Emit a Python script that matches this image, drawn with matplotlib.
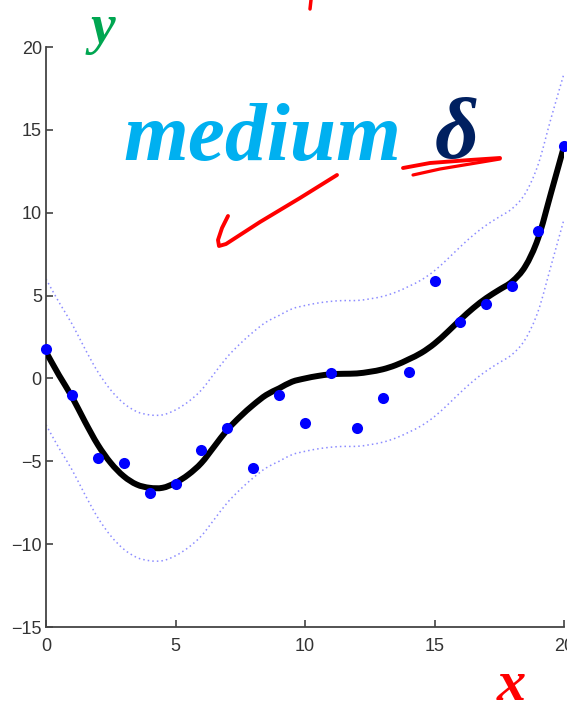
import matplotlib
matplotlib.use("Agg")
import matplotlib.pyplot as plt
from matplotlib.lines import Line2D
from matplotlib.path import Path
from matplotlib.patches import PathPatch

# ---- data ----
obs_x = [0, 1, 2, 3, 4, 5, 6, 7, 8, 9, 10, 11, 12, 13, 14, 15, 16, 17, 18, 19, 20]
obs_y = [1.8, -1.0, -4.8, -5.1, -6.9, -6.4, -4.3, -3.0, -5.4, -1.0, -2.7,
         0.3, -3.0, -1.2, 0.4, 5.9, 3.4, 4.5, 5.6, 8.9, 14.0]

fit_x = [0, 0.5, 1, 1.5, 2, 2.5, 3, 3.5, 4, 4.5, 5, 5.5, 6, 6.5, 7, 7.5, 8, 8.5,
         9, 9.5, 10, 10.5, 11, 11.5, 12, 12.5, 13, 13.5, 14, 14.5, 15, 15.5,
         16, 16.5, 17, 17.5, 18, 18.5, 19, 19.5, 20]
fit_y = [1.6, 0.2, -1.1, -2.6, -4.0, -5.1, -5.9, -6.4, -6.6, -6.6, -6.3, -5.8,
         -5.1, -4.1, -3.1, -2.3, -1.6, -1.0, -0.6, -0.2, 0.0, 0.15, 0.25, 0.28,
         0.3, 0.4, 0.55, 0.8, 1.15, 1.55, 2.1, 2.8, 3.55, 4.25, 4.85, 5.35,
         5.85, 6.75, 8.45, 11.2, 14.0]
upper_y = [6.0, 4.6, 3.3, 1.8, 0.4, -0.7, -1.5, -2.0, -2.2, -2.2, -1.9, -1.4,
           -0.7, 0.3, 1.3, 2.1, 2.8, 3.4, 3.8, 4.2, 4.4, 4.55, 4.65, 4.7,
           4.7, 4.8, 4.95, 5.2, 5.55, 5.95, 6.5, 7.2, 7.95, 8.65, 9.25, 9.75,
           10.25, 11.15, 12.9, 15.7, 18.4]
lower_y = [-2.8, -4.2, -5.5, -7.0, -8.4, -9.5, -10.3, -10.8, -11.0, -11.0,
           -10.7, -10.2, -9.5, -8.5, -7.5, -6.7, -6.0, -5.4, -5.0, -4.6, -4.4,
           -4.25, -4.15, -4.1, -4.1, -4.0, -3.85, -3.6, -3.25, -2.85, -2.3,
           -1.6, -0.85, -0.15, 0.45, 0.95, 1.45, 2.35, 4.05, 6.8, 9.6]

x_ticks = [0, 5, 10, 15, 20]
y_ticks = [-15, -10, -5, 0, 5, 10, 15, 20]

W, H = 567, 710
fig = plt.figure(figsize=(W / 100, H / 100), dpi=100)
ax = fig.add_axes([46 / W, 1 - 627 / H, (564 - 46) / W, (627 - 47) / H])


def smooth_path(xs, ys):
    """Catmull-Rom curve through the read points, drawn as Bezier segments."""
    verts = [(xs[0], ys[0])]
    codes = [Path.MOVETO]
    n = len(xs)
    for i in range(n - 1):
        x0, y0 = (xs[i - 1], ys[i - 1]) if i > 0 else (xs[i], ys[i])
        x1, y1 = xs[i], ys[i]
        x2, y2 = xs[i + 1], ys[i + 1]
        x3, y3 = (xs[i + 2], ys[i + 2]) if i + 2 < n else (x2, y2)
        c1 = (x1 + (x2 - x0) / 6, y1 + (y2 - y0) / 6)
        c2 = (x2 - (x3 - x1) / 6, y2 - (y3 - y1) / 6)
        verts += [c1, c2, (x2, y2)]
        codes += [Path.CURVE4] * 3
    return Path(verts, codes)


def draw_curve(xs, ys, **kw):
    patch = PathPatch(smooth_path(xs, ys), facecolor="none",
                      transform=ax.transData, **kw)
    ax.add_patch(patch)


draw_curve(fit_x, upper_y, edgecolor="#8c8cff", lw=1.1, linestyle=(0, (1, 2)))
draw_curve(fit_x, lower_y, edgecolor="#8c8cff", lw=1.1, linestyle=(0, (1, 2)))
draw_curve(fit_x, fit_y, edgecolor="black", lw=4.3, capstyle="round",
           joinstyle="round", zorder=3)
ax.plot(obs_x, obs_y, "o", color="#0000ff", ms=8, mec="none", zorder=4,
        clip_on=False)

ax.set_xlim(0, 20)
ax.set_ylim(-15, 20)
ax.set_xticks(x_ticks)
ax.set_yticks(y_ticks)
ax.set_xticklabels([str(t) for t in x_ticks])
ax.set_yticklabels([str(t).replace("-", "\u2212") for t in y_ticks])
for s in ["top", "right"]:
    ax.spines[s].set_visible(False)
for s in ["left", "bottom"]:
    ax.spines[s].set_color("#444444")
    ax.spines[s].set_linewidth(1.3)
ax.tick_params(direction="in", length=5, width=1.1, color="#333333",
               labelsize=13, labelcolor="#333333")
ax.tick_params(axis="x", pad=8)
ax.tick_params(axis="y", pad=3)
for lab in ax.get_xticklabels() + ax.get_yticklabels():
    lab.set_fontfamily("Liberation Sans")

serif = "Liberation Serif"
fig.text(91 / W, 1 - 43 / H, "y", color="#00a651", fontsize=40, family=serif,
         weight="bold", style="italic", va="baseline", ha="left")
fig.text(123 / W, 1 - 160 / H, "medium", color="#00b0f0", fontsize=60,
         family=serif, weight="bold", style="italic", va="baseline", ha="left")
fig.text(435 / W, 1 - 158 / H, "\u03b4", color="#002060", fontsize=62,
         family=serif, weight="bold", style="italic", va="baseline", ha="left")
fig.text(497 / W, 1 - 700 / H, "x", color="#ff0000", fontsize=42, family=serif,
         weight="bold", style="italic", va="baseline", ha="left")


def stroke(pts, lw):
    xs = [p[0] / W for p in pts]
    ys = [1 - p[1] / H for p in pts]
    fig.add_artist(Line2D(xs, ys, transform=fig.transFigure, color="#ff0000",
                          lw=lw, solid_capstyle="round", solid_joinstyle="round"))


# red pen marks
stroke([(228, 216), (222, 228), (218, 240), (219, 246), (226, 244), (260, 222),
        (300, 198), (337, 175)], 2.8)
stroke([(403, 168), (430, 163), (470, 160), (500, 158)], 2.8)
stroke([(500, 159), (470, 164), (440, 169), (413, 175)], 2.3)
stroke([(311, 0), (310, 9)], 2.5)

fig.savefig("out.png", dpi=100)
